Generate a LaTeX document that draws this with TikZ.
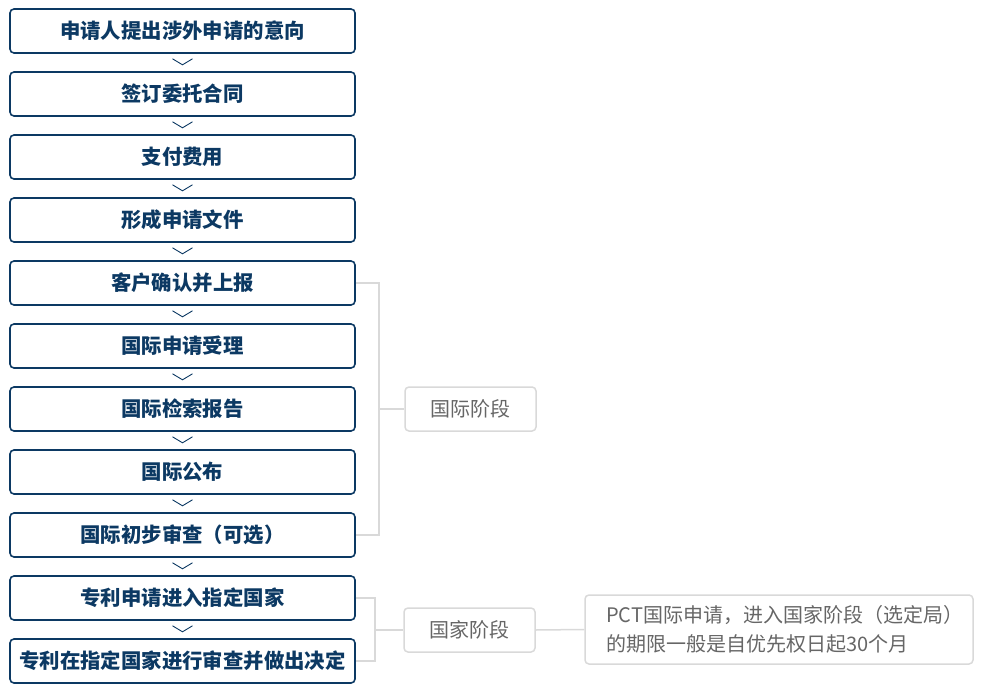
\documentclass[tikz,border=0pt]{standalone}
\usepackage{fontspec}
\setmainfont{Noto Sans CJK SC}
\definecolor{navy}{RGB}{12,57,99}
\definecolor{lgray}{RGB}{217,217,217}
\definecolor{tgray}{RGB}{102,102,102}
\begin{document}
\begin{tikzpicture}[x=1pt,y=1pt]
		\tikzset{stepbox/.style={draw=navy,line width=1.6pt,rounded corners=4pt,minimum width=345pt,minimum height=44pt,inner sep=0pt,font=\fontsize{20.4}{22}\selectfont\bfseries,text=navy},
			stagebox/.style={draw=lgray,line width=1.5pt,rounded corners=4pt,minimum width=131pt,minimum height=44pt,inner sep=0pt,font=\fontsize{20}{22}\selectfont,text=tgray},
			notebox/.style={draw=lgray,line width=1.5pt,rounded corners=4pt,minimum height=69pt,text width=346pt,inner xsep=21pt,inner ysep=0pt,align=left,font=\fontsize{20}{29}\selectfont,text=tgray},
			link/.style={draw=lgray,line width=1.5pt},
			chev/.style={draw=navy,line width=0.9pt}}
		\useasboundingbox (0,0) rectangle (983,-693);
		%Begin steps
		\foreach \t [count=\i] in {申请人提出涉外申请的意向,签订委托合同,支付费用,形成申请文件,客户确认并上报,国际申请受理,国际检索报告,国际公布,国际初步审查（可选）,专利申请进入指定国家,专利在指定国家进行审查并做出决定}
			\node[stepbox] (b\i) at (182.5,{-31-63*(\i-1)}) {\t};
		\foreach \i in {1,...,10}
			\draw[chev] ([xshift=-10pt,yshift=-5pt]b\i.south) -- ++(10pt,-6pt) -- ++(10pt,6pt);
		%Stages
		\node[stagebox] (s1) at (470.5,-409) {国际阶段};
		\node[stagebox] (s2) at (469.5,-630) {国家阶段};
		\node[notebox] (note) at (779,-629.5) {PCT国际申请，进入国家阶段（选定局）\\的期限一般是自优先权日起30个月};
		\coordinate (j1) at (379,-409);
		\coordinate (j2) at (375,-630);
		\draw[link] (b5.east) -| (j1) |- (b9.east);
		\draw[link] (j1) -- (s1.west);
		\draw[link] (b10.east) -| (j2) |- (b11.east);
		\draw[link] (j2) -- (s2.west);
		\draw[link] (s2.east) -- (note.west);
	\end{tikzpicture}
\end{document}
